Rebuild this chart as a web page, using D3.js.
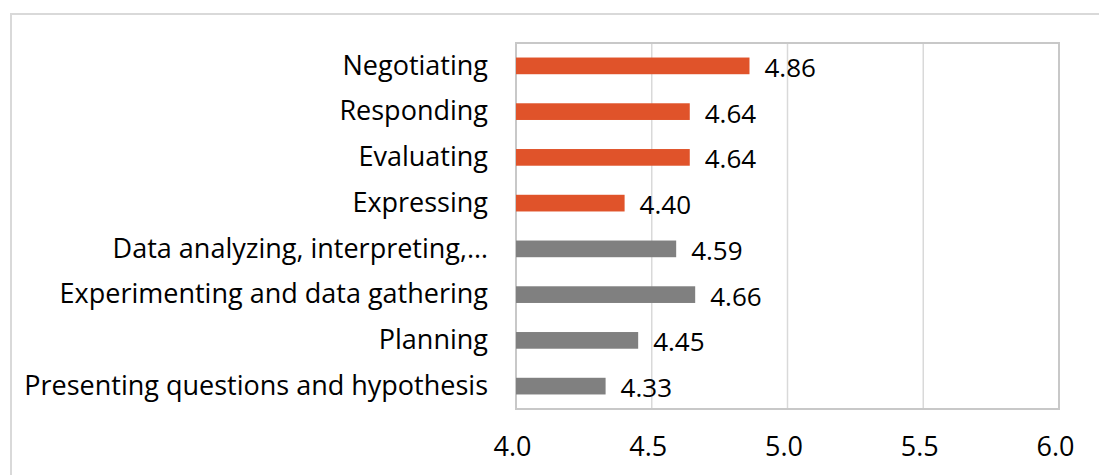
<!DOCTYPE html>
<html>
<head>
<meta charset="utf-8">
<script src="https://cdn.jsdelivr.net/npm/d3@7"></script>
<style>
  html, body { margin: 0; padding: 0; background: #fff; }
  svg { display: block; font-family: "Open Sans", "Noto Sans", sans-serif; }
</style>
</head>
<body>
<svg id="chart" width="1099" height="475"></svg>
<script>
// categories top to bottom
const categories = [
  'Negotiating',
  'Responding',
  'Evaluating',
  'Expressing',
  'Data analyzing, interpreting,…',
  'Experimenting and data gathering',
  'Planning',
  'Presenting questions and hypothesis',
];
const values = [4.86, 4.64, 4.64, 4.40, 4.59, 4.66, 4.45, 4.33];
const groups = ['comm', 'comm', 'comm', 'comm', 'inq', 'inq', 'inq', 'inq'];
const ticks = [4.0, 4.5, 5.0, 5.5, 6.0];

const colors = { comm: '#e0532a', inq: '#808080' };

const width = 1099;
const height = 475;
const margin = { top: 43, right: 40, bottom: 66, left: 516 };
const font = '"Open Sans", "Noto Sans", sans-serif';

const svg = d3.select('#chart');

// outer chart border
svg.append('rect')
  .attr('x', 11).attr('y', 14)
  .attr('width', width + 20).attr('height', height + 20)
  .attr('fill', 'none')
  .attr('stroke', '#d9d9d9')
  .attr('stroke-width', 2);

const x = d3.scaleLinear()
  .domain([4, 6])
  .range([margin.left, width - margin.right]);

const y = d3.scaleBand()
  .domain(categories)
  .range([margin.top, height - margin.bottom])
  .paddingInner(0.635)
  .paddingOuter(0.3175);

// gridlines
svg.append('g')
  .selectAll('line')
  .data(ticks.slice(1, -1))
  .join('line')
  .attr('x1', (d) => x(d)).attr('x2', (d) => x(d))
  .attr('y1', margin.top).attr('y2', height - margin.bottom)
  .attr('stroke', '#d9d9d9')
  .attr('stroke-width', 1.5);

// plot area frame
svg.append('rect')
  .attr('x', x(4)).attr('y', margin.top)
  .attr('width', x(6) - x(4))
  .attr('height', height - margin.bottom - margin.top)
  .attr('fill', 'none')
  .attr('stroke', '#c8c8c8')
  .attr('stroke-width', 2);

const data = categories.map((c, i) => ({ c, v: values[i], g: groups[i] }));

svg.append('g')
  .selectAll('rect')
  .data(data)
  .join('rect')
  .attr('x', x(4))
  .attr('y', (d) => y(d.c))
  .attr('width', (d) => x(d.v) - x(4))
  .attr('height', y.bandwidth())
  .attr('fill', (d) => colors[d.g]);

// data labels
svg.append('g')
  .selectAll('text')
  .data(data)
  .join('text')
  .attr('x', (d) => x(d.v) + 15)
  .attr('y', (d) => y(d.c) + y.bandwidth() / 2 + 2)
  .attr('dy', '0.35em')
  .attr('font-size', 26)
  .attr('fill', '#000')
  .text((d) => d.v.toFixed(2));

// category axis
const yAxis = svg.append('g')
  .attr('transform', `translate(${x(4)},0)`)
  .call(d3.axisLeft(y).tickSize(0).tickPadding(28));
yAxis.select('.domain').remove();
yAxis.selectAll('text')
  .attr('font-size', 27)
  .attr('font-family', font)
  .attr('fill', '#000');

// value axis
const xAxis = svg.append('g')
  .attr('transform', `translate(-4,${height - margin.bottom})`)
  .call(d3.axisBottom(x).tickValues(ticks).tickFormat(d3.format('.1f')).tickSize(0).tickPadding(28));
xAxis.select('.domain').remove();
xAxis.selectAll('text')
  .attr('font-size', 27)
  .attr('font-family', font)
  .attr('fill', '#000');
</script>
</body>
</html>
